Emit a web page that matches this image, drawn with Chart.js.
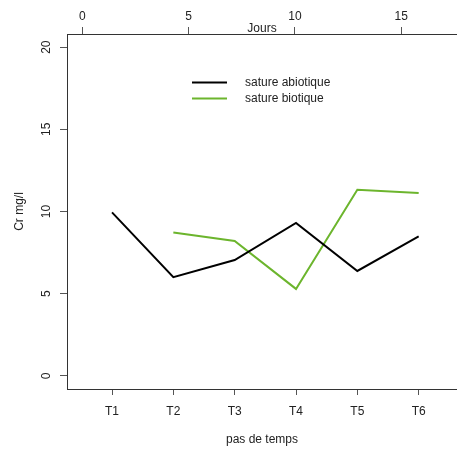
<!DOCTYPE html>
<html>
<head>
<meta charset="utf-8">
<script src="https://cdn.jsdelivr.net/npm/chart.js@4"></script>
<style>
  body { margin: 0; background: #fff; }
  canvas { display: block; }
</style>
</head>
<body>
<canvas id="myChart" width="457" height="453"></canvas>
<script>
'use strict'

// DATA
const categories = ['T1', 'T2', 'T3', 'T4', 'T5', 'T6'];
const satureAbiotique = [9.95, 6.0, 7.05, 9.3, 6.38, 8.48];
const satureBiotique = [null, 8.72, 8.21, 5.29, 11.32, 11.12];
const yTicks = [0, 5, 10, 15, 20];
const joursTicks = [0, 5, 10, 15];

const FONT = "'Liberation Sans', Arial, sans-serif";
const TEXT = '#222';

function toPoints(values) {
  return values.map((v, i) => ({ x: i + 1, y: v }));
}

// draws rotated y tick labels, "Jours" and the legend
const extras = {
  id: 'extras',
  afterDraw(chart) {
    const ctx = chart.ctx;
    const y = chart.scales.y;
    const area = chart.chartArea;
    ctx.save();
    ctx.fillStyle = TEXT;
    ctx.font = '12px ' + FONT;
    ctx.textAlign = 'center';
    ctx.textBaseline = 'middle';
    for (let i = 0; i < yTicks.length; i++) {
      ctx.save();
      ctx.translate(47, y.getPixelForValue(yTicks[i]));
      ctx.rotate(-Math.PI / 2);
      ctx.fillText(String(yTicks[i]), 0, 0);
      ctx.restore();
    }
    ctx.fillText('Jours', (area.left + area.right) / 2, 29);

    // legend
    const items = [
      { label: 'sature abiotique', color: '#000', y: 82.5 },
      { label: 'sature biotique', color: '#6cb52d', y: 98.5 }
    ];
    ctx.textAlign = 'left';
    items.forEach(it => {
      ctx.strokeStyle = it.color;
      ctx.lineWidth = 2;
      ctx.beginPath();
      ctx.moveTo(192, it.y);
      ctx.lineTo(227, it.y);
      ctx.stroke();
      ctx.fillText(it.label, 245, it.y + 0.5);
    });
    ctx.restore();
  }
};

const data = {
  datasets: [{
    label: 'sature abiotique',
    data: toPoints(satureAbiotique),
    borderColor: '#000',
    borderWidth: 2,
    pointRadius: 0,
    tension: 0,
    xAxisID: 'x',
    yAxisID: 'y'
  },
  {
    label: 'sature biotique',
    data: toPoints(satureBiotique),
    borderColor: '#6cb52d',
    borderWidth: 2,
    pointRadius: 0,
    tension: 0,
    xAxisID: 'x',
    yAxisID: 'y'
  }]
};

const config = {
  type: 'line',
  data: data,
  plugins: [extras],
  options: {
    responsive: false,
    animation: false,
    layout: { padding: 0 },
    plugins: {
      legend: { display: false },
      tooltip: { enabled: false }
    },
    scales: {
      x: {
        type: 'linear',
        position: 'bottom',
        min: 0.266,
        max: 6.625,
        afterBuildTicks: s => { s.ticks = categories.map((c, i) => ({ value: i + 1 })); },
        afterFit: s => { s.height = 64; },
        grid: { drawOnChartArea: false, drawTicks: true, tickLength: 6, tickColor: '#555' },
        border: { display: true, color: '#333', width: 1 },
        ticks: {
          color: TEXT,
          font: { family: FONT, size: 12 },
          padding: 9.5,
          maxRotation: 0,
          callback: v => categories[v - 1]
        },
        title: {
          display: true,
          text: 'pas de temps',
          color: TEXT,
          font: { family: FONT, size: 12 },
          padding: { top: 0, bottom: 6 }
        }
      },
      x2: {
        type: 'linear',
        position: 'top',
        min: -0.72,
        max: 17.62,
        afterBuildTicks: s => { s.ticks = joursTicks.map(v => ({ value: v })); },
        afterFit: s => { s.height = 34; },
        grid: { drawOnChartArea: false, drawTicks: true, tickLength: 7, tickColor: '#555' },
        border: { display: true, color: '#333', width: 1 },
        ticks: {
          color: TEXT,
          font: { family: FONT, size: 12 },
          padding: 3.5,
          maxRotation: 0
        }
      },
      y: {
        type: 'linear',
        position: 'left',
        min: -0.8,
        max: 20.8,
        afterBuildTicks: s => { s.ticks = yTicks.map(v => ({ value: v })); },
        afterFit: s => { s.width = 67; },
        grid: { drawOnChartArea: false, drawTicks: true, tickLength: 7, tickColor: '#555' },
        border: { display: true, color: '#333', width: 1 },
        ticks: { display: false },
        title: {
          display: true,
          text: 'Cr mg/l',
          color: TEXT,
          font: { family: FONT, size: 12 },
          padding: { top: 12, bottom: 0 }
        }
      }
    }
  }
};

let canvasChart = document.getElementById('myChart');
const myChart = new Chart(canvasChart, config);
</script>
</body>
</html>
